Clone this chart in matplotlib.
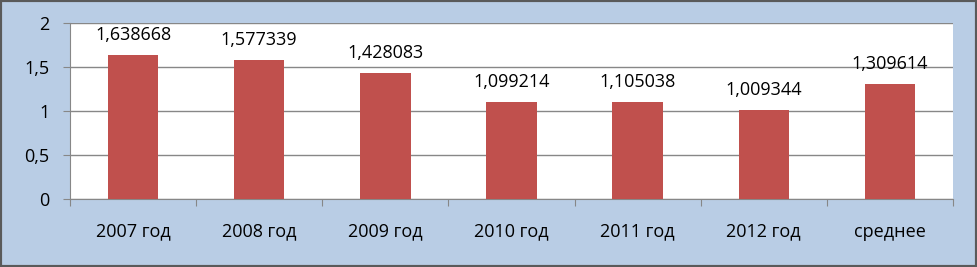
import matplotlib.pyplot as plt
from matplotlib.patches import Rectangle

categories = ["2007 год", "2008 год", "2009 год", "2010 год",
              "2011 год", "2012 год", "среднее"]
values = [1.638668, 1.577339, 1.428083, 1.099214,
          1.105038, 1.009344, 1.309614]
yticks = [0, 0.5, 1, 1.5, 2]

plt.rcParams['font.family'] = ['Open Sans', 'DejaVu Sans']

fig = plt.figure(figsize=(9.77, 2.67), dpi=100, facecolor='#b9cde5')
ax = fig.add_axes([70 / 977, 1 - 199 / 267, 883 / 977, 176 / 267])
ax.set_facecolor('white')

x = list(range(len(categories)))
ax.bar(x, values, width=0.4, color='#c0504d', zorder=3)
for xi, v in zip(x, values):
    ax.annotate(str(v).replace('.', ','), (xi, v), xytext=(0, 8),
                textcoords='offset points', ha='center', va='bottom',
                fontsize=13, color='black')

ax.set_xlim(-0.5, len(categories) - 0.5)
ax.set_ylim(0, 2)
ax.set_yticks(yticks)
ax.set_yticklabels([str(t).replace('.', ',') if t % 1 else str(int(t))
                    for t in yticks], fontsize=13)
ax.yaxis.grid(True, color='#878787', linewidth=1, zorder=0)

ax.set_xticks([i - 0.5 for i in range(len(categories) + 1)])
ax.set_xticklabels([])
ax.set_xticks(x, minor=True)
ax.set_xticklabels(categories, minor=True, fontsize=13)
ax.tick_params(axis='x', which='minor', length=0, pad=17)
ax.tick_params(axis='x', which='major', length=5, color='#878787')
ax.tick_params(axis='y', length=5, color='#878787', pad=10)

for side in ['top', 'right']:
    ax.spines[side].set_visible(False)
ax.spines['left'].set_color('#878787')
ax.spines['bottom'].set_color('#878787')

fig.patches.append(Rectangle((0, 0), 1, 1, transform=fig.transFigure,
                             fill=False, edgecolor='#5a5a5a', linewidth=3))

fig.savefig('out.png', dpi=100, facecolor=fig.get_facecolor())
